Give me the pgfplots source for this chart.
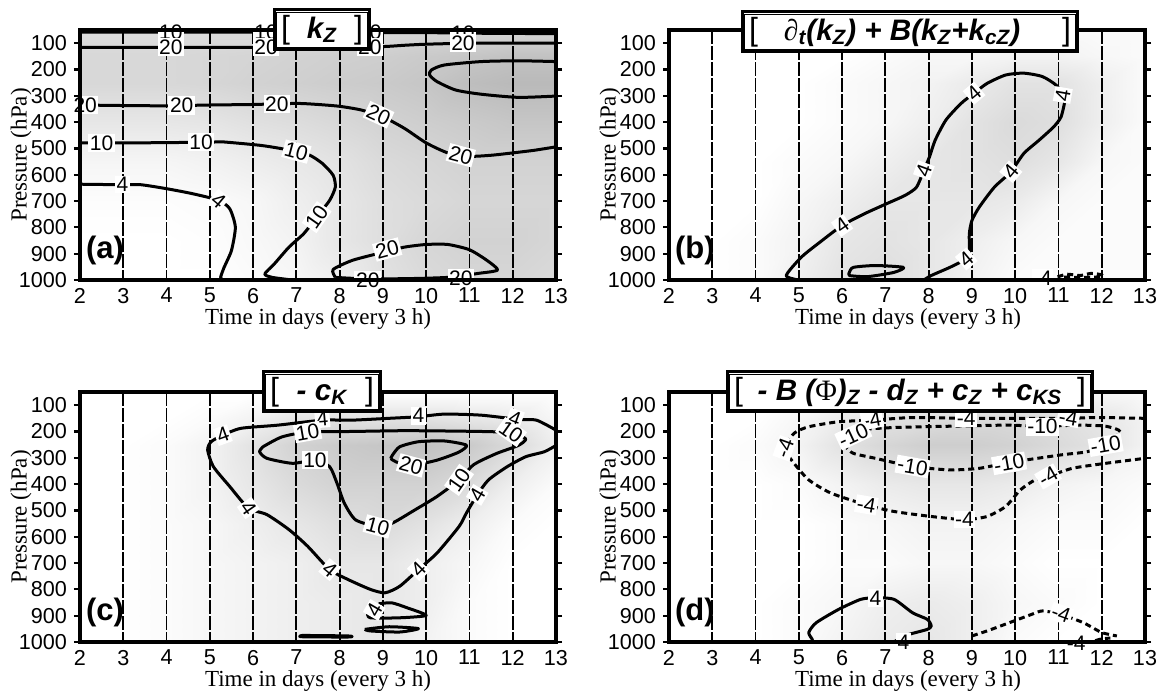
\documentclass[border=0pt]{standalone}
\usepackage{fontspec}
\setmainfont{Liberation Sans}
\newfontfamily\serif{Liberation Serif}
\usepackage{pgfplots}
\pgfplotsset{compat=1.18}
\pgfplotsset{
 panel/.style={
  width=238pt, height=125pt, scale only axis,
  xmin=2, xmax=13, ymin=50, ymax=1000, y dir=reverse,
  xtick={2,...,13}, ytick={100,200,...,1000},
  clip=false, axis on top,
  tick align=outside, ytick pos=both, xtick pos=bottom,
  xtick style={draw=none},
  ytick style={line width=1.1pt, black},
  major tick length=3pt,
  axis line style={line width=1.7pt},
  tick label style={font=\fontsize{10.8}{11}\selectfont},
  xticklabel style={yshift=2.5pt},
  /pgf/number format/assume math mode=true,
  /pgf/number format/1000 sep={},
  colormap={gr}{color(0)=(white) color(1)=(black!32)},
  point meta min=0, point meta max=1,
 },
 cont/.style={black, line width=1.5pt, smooth, tension=0.4, line join=round},
 contn/.style={cont, dash pattern=on 3pt off 2pt},
 gl/.style={black, line width=0.9pt, dash pattern=on 7pt off 1pt},
 sh/.style={surf, shader=interp, mesh/cols=12, point meta=explicit},
}
\tikzset{
 lab/.style={fill=white, inner sep=0.8pt, font=\fontsize{10.5}{11}\selectfont},
 tb/.style={draw, fill=white, line width=1.5pt, minimum height=20pt, inner sep=0pt},
 axl/.style={font=\serif\fontsize{11.5}{12}\selectfont},
 pl/.style={anchor=south west, inner sep=0pt, font=\fontsize{15.5}{16}\selectfont\bfseries},
}
\newcommand\clab[4]{\node[lab, rotate=#3] at (axis cs:#1,#2) {#4};}
\newcommand\gridl{\pgfplotsinvokeforeach{3,...,12}{\addplot[gl] coordinates {(##1,50) (##1,1000)};}}
\newcommand\innerframe[1]{\draw[line width=0.5pt] ([shift={(1.9pt,1.9pt)}]#1.south west) rectangle ([shift={(-1.9pt,-1.9pt)}]#1.north east);}
\newcommand\ttl[2]{\makebox[#1]{{\fontsize{16}{16}\selectfont[}\hfill{\fontsize{14.8}{16}\selectfont\bfseries\itshape #2}\hfill{\fontsize{16}{16}\selectfont]}}}

\begin{document}
\begin{tikzpicture}
\useasboundingbox (0,0) rectangle (581.5pt,-347.5pt);

% ---------------- (a)
\begin{axis}[panel, name=a, at={(40pt,-140pt)}, anchor=south west]
\addplot[sh] coordinates {
(2,50)[.42] (3,50)[.42] (4,50)[.42] (5,50)[.42] (6,50)[.42] (7,50)[.42] (8,50)[.45] (9,50)[.45] (10,50)[.5] (11,50)[.5] (12,50)[.5] (13,50)[.5]
(2,150)[.48] (3,150)[.48] (4,150)[.48] (5,150)[.5] (6,150)[.52] (7,150)[.55] (8,150)[.58] (9,150)[.6] (10,150)[.65] (11,150)[.7] (12,150)[.75] (13,150)[.75]
(2,250)[.48] (3,250)[.48] (4,250)[.48] (5,250)[.5] (6,250)[.55] (7,250)[.58] (8,250)[.62] (9,250)[.65] (10,250)[.7] (11,250)[.8] (12,250)[.85] (13,250)[.85]
(2,400)[.3] (3,400)[.3] (4,400)[.3] (5,400)[.32] (6,400)[.38] (7,400)[.42] (8,400)[.48] (9,400)[.55] (10,400)[.6] (11,400)[.65] (12,400)[.7] (13,400)[.7]
(2,550)[.12] (3,550)[.12] (4,550)[.12] (5,550)[.16] (6,550)[.22] (7,550)[.28] (8,550)[.35] (9,550)[.45] (10,550)[.5] (11,550)[.55] (12,550)[.55] (13,550)[.55]
(2,700)[.03] (3,700)[.03] (4,700)[.03] (5,700)[.05] (6,700)[.1] (7,700)[.2] (8,700)[.3] (9,700)[.4] (10,700)[.45] (11,700)[.5] (12,700)[.5] (13,700)[.5]
(2,850)[0] (3,850)[0] (4,850)[0] (5,850)[.02] (6,850)[.08] (7,850)[.15] (8,850)[.3] (9,850)[.4] (10,850)[.5] (11,850)[.55] (12,850)[.55] (13,850)[.5]
(2,1000)[0] (3,1000)[0] (4,1000)[0] (5,1000)[0] (6,1000)[.05] (7,1000)[.1] (8,1000)[.2] (9,1000)[.35] (10,1000)[.45] (11,1000)[.5] (12,1000)[.5] (13,1000)[.45]
};
\gridl
\addplot[cont] coordinates {(2,58) (4,58) (6,58) (8,58) (9,60) (10,60) (11,62) (12,63) (13,64)};
\addplot[cont] coordinates {(2,116) (3,116) (4,116) (5,116) (6,116) (7,115) (8,115) (9,113) (9.5,108) (10,104) (11,100) (12,100) (13,100)};
\addplot[cont] coordinates {(13,170) (12.13,167) (11.27,170) (10.42,183) (10.12,202) (10.08,221) (10.25,246) (10.68,278) (11.27,294) (12.13,306) (13,301)};
\addplot[cont] coordinates {(2,335) (3,337) (4,338) (5,335) (6,333) (7,329) (7.5,333) (8,340) (8.5,354) (9,380) (9.5,424) (10,479) (10.5,517) (11,530) (11.5,526) (12,517) (12.5,507) (13,494)};
\addplot[cont] coordinates {(2,479) (3,479) (4,478) (5,476) (5.29,475) (6.15,488) (6.66,501) (7.26,522) (7.6,557) (7.85,602) (7.9,647) (7.77,697) (7.47,761) (7.17,824) (6.83,875) (6.49,939) (6.27,977) (6.44,990) (6.91,1000)};
\addplot[cont] coordinates {(2,636) (3,638) (3.41,638) (4.0,653) (4.6,672) (5.2,697) (5.46,729) (5.59,799) (5.5,888) (5.33,952) (5.25,990) (5.3,1000)};
\addplot[cont] coordinates {(7.9,990) (7.85,960) (8.3,925) (9,895) (9.5,875) (10,865) (10.5,865) (11,885) (11.4,925) (11.65,962) (11.2,975) (10.5,990) (9.5,995) (8.5,995) (7.9,990)};
\clab{4.1}{58}{0}{10} \clab{6.3}{58}{0}{10} \clab{8.7}{60}{0}{10} \clab{10.85}{61}{0}{10}
\clab{4.1}{116}{0}{20} \clab{6.3}{116}{0}{20} \clab{8.7}{114}{0}{20} \clab{10.85}{101}{0}{20}
\clab{2.12}{335}{0}{20} \clab{4.35}{337}{0}{20} \clab{6.55}{331}{0}{20} \clab{8.9}{372}{-25}{20} \clab{10.8}{526}{-15}{20}
\clab{2.5}{479}{0}{10} \clab{4.8}{477}{0}{10} \clab{7.0}{512}{-15}{10} \clab{7.47}{761}{55}{10}
\clab{2.98}{637}{0}{4} \clab{5.2}{697}{-40}{4}
\clab{9.1}{884}{15}{20} \clab{8.65}{1000}{0}{20} \clab{10.8}{994}{0}{20}
\node[pl] at (axis description cs:0.012,0.06) {(a)};
\end{axis}

% ---------------- (b)
\begin{axis}[panel, name=b, at={(334.5pt,-140pt)}, anchor=south west]
\addplot[sh] coordinates {
(2,50)[0] (3,50)[0] (4,50)[0] (5,50)[0] (6,50)[0] (7,50)[.05] (8,50)[.05] (9,50)[.05] (10,50)[.05] (11,50)[.05] (12,50)[.05] (13,50)[.05]
(2,150)[0] (3,150)[0] (4,150)[0] (5,150)[0] (6,150)[0] (7,150)[.05] (8,150)[.1] (9,150)[.1] (10,150)[.15] (11,150)[.15] (12,150)[.1] (13,150)[.05]
(2,250)[0] (3,250)[0] (4,250)[0] (5,250)[0] (6,250)[.05] (7,250)[.1] (8,250)[.15] (9,250)[.25] (10,250)[.35] (11,250)[.35] (12,250)[.2] (13,250)[.05]
(2,400)[0] (3,400)[0] (4,400)[0] (5,400)[0] (6,400)[.05] (7,400)[.1] (8,400)[.2] (9,400)[.35] (10,400)[.45] (11,400)[.4] (12,400)[.2] (13,400)[.05]
(2,550)[0] (3,550)[0] (4,550)[0] (5,550)[.05] (6,550)[.1] (7,550)[.2] (8,550)[.3] (9,550)[.35] (10,550)[.4] (11,550)[.3] (12,550)[.1] (13,550)[.05]
(2,700)[0] (3,700)[0] (4,700)[0] (5,700)[.1] (6,700)[.2] (7,700)[.3] (8,700)[.3] (9,700)[.3] (10,700)[.25] (11,700)[.1] (12,700)[.05] (13,700)[.05]
(2,850)[0] (3,850)[0] (4,850)[.05] (5,850)[.15] (6,850)[.3] (7,850)[.35] (8,850)[.3] (9,850)[.2] (10,850)[.1] (11,850)[.05] (12,850)[.05] (13,850)[.05]
(2,1000)[0] (3,1000)[0] (4,1000)[.05] (5,1000)[.2] (6,1000)[.35] (7,1000)[.4] (8,1000)[.3] (9,1000)[.15] (10,1000)[.05] (11,1000)[.05] (12,1000)[.05] (13,1000)[.05]
};
\gridl
\addplot[cont] coordinates {(5.0,1000) (4.71,983) (5.06,913) (5.49,856) (6.0,793) (6.52,748) (7.03,710) (7.46,678) (7.72,647) (7.89,583) (8.02,532) (8.15,469) (8.4,392) (8.75,329) (9.05,290) (9.35,253) (9.78,221) (10.2,214) (10.63,227) (10.95,260) (11.1,297) (11.15,316) (11.06,380) (10.89,418) (10.55,469) (10.2,519) (9.9,589) (9.52,647) (9.17,723) (9.0,774) (8.94,825) (8.94,901) (8.87,920) (8.49,952) (8.06,983) (7.89,1000)};
\addplot[cont] coordinates {(6.17,971) (6.26,952) (6.77,945) (7.42,952) (7.2,971) (6.6,987) (6.17,983) (6.17,971)};
\addplot[contn] coordinates {(10.98,988) (11.2,978) (11.5,983) (11.75,975) (12.0,980) (12.0,988) (11.5,990) (10.98,988)};
\clab{6.0}{793}{35}{4} \clab{7.89}{583}{70}{4} \clab{9.05}{290}{40}{4} \clab{11.1}{297}{80}{4} \clab{9.9}{589}{50}{4} \clab{8.87}{920}{40}{4}
\clab{10.63}{992}{0}{-4}
\node[pl] at (axis description cs:0.012,0.06) {(b)};
\end{axis}

% ---------------- (c)
\begin{axis}[panel, name=c, at={(40pt,-321pt)}, anchor=south west]
\addplot[sh] coordinates {
(2,50)[0] (3,50)[0] (4,50)[0] (5,50)[0] (6,50)[0] (7,50)[0] (8,50)[0] (9,50)[0] (10,50)[0] (11,50)[0] (12,50)[0] (13,50)[0]
(2,150)[0] (3,150)[0] (4,150)[0] (5,150)[.05] (6,150)[.15] (7,150)[.3] (8,150)[.35] (9,150)[.35] (10,150)[.35] (11,150)[.3] (12,150)[.25] (13,150)[.1]
(2,250)[0] (3,250)[0] (4,250)[.05] (5,250)[.15] (6,250)[.35] (7,250)[.55] (8,250)[.65] (9,250)[.7] (10,250)[.75] (11,250)[.65] (12,250)[.45] (13,250)[.2]
(2,400)[0] (3,400)[0] (4,400)[.05] (5,400)[.15] (6,400)[.3] (7,400)[.45] (8,400)[.55] (9,400)[.55] (10,400)[.55] (11,400)[.45] (12,400)[.2] (13,400)[.05]
(2,550)[0] (3,550)[0] (4,550)[.05] (5,550)[.1] (6,550)[.2] (7,550)[.3] (8,550)[.4] (9,550)[.45] (10,550)[.35] (11,550)[.2] (12,550)[.05] (13,550)[0]
(2,700)[0] (3,700)[0] (4,700)[.05] (5,700)[.1] (6,700)[.15] (7,700)[.2] (8,700)[.3] (9,700)[.3] (10,700)[.2] (11,700)[.1] (12,700)[0] (13,700)[0]
(2,850)[0] (3,850)[0] (4,850)[.05] (5,850)[.1] (6,850)[.15] (7,850)[.2] (8,850)[.25] (9,850)[.3] (10,850)[.2] (11,850)[.05] (12,850)[0] (13,850)[0]
(2,1000)[0] (3,1000)[0] (4,1000)[.05] (5,1000)[.1] (6,1000)[.15] (7,1000)[.2] (8,1000)[.25] (9,1000)[.3] (10,1000)[.15] (11,1000)[.05] (12,1000)[0] (13,1000)[0]
};
\gridl
\addplot[cont] coordinates {(13,195) (12.55,157) (12.13,154) (11.27,138) (10.42,134) (9.82,144) (9.14,150) (8.28,157) (7.6,157) (6.57,176) (5.72,188) (5.3,214) (5.03,239) (4.95,270) (5.08,333) (5.46,409) (5.89,491) (6.32,516) (6.83,573) (7.26,636) (7.77,725) (8.2,763) (8.71,800) (9.05,813) (9.39,788) (9.82,725) (10.25,662) (10.76,561) (10.93,510) (11.18,441) (11.44,384) (11.87,334) (12.3,296) (12.73,277) (13,253)};
\addplot[cont] coordinates {(6.23,258) (6.66,221) (7.26,202) (8.28,200) (9.56,197) (11.27,200) (11.96,205) (12.3,228) (12.13,253) (11.62,284) (11.1,326) (10.76,384) (10.25,447) (9.74,498) (9.22,548) (8.88,561) (8.37,536) (8.11,473) (7.94,397) (7.77,334) (7.43,309) (6.91,321) (6.32,302) (6.15,277) (6.23,258)};
\addplot[cont] coordinates {(9.18,303) (9.22,290) (9.39,258) (9.82,239) (10.42,236) (10.93,252) (10.76,278) (10.25,309) (9.65,329) (9.31,316) (9.18,303)};
\addplot[cont] coordinates {(8.9,855) (9.2,851) (9.56,870) (10.0,899) (9.39,908) (8.71,908) (8.65,890)};
\addplot[cont] coordinates {(8.58,952) (9.14,942) (9.82,949) (9.39,962) (8.71,958) (8.58,952)};
\addplot[cont] coordinates {(7.13,975) (8.2,977) (8.2,981) (7.13,980) (7.13,975)};
\clab{5.3}{214}{20}{4} \clab{7.6}{152}{5}{4} \clab{9.82}{140}{0}{4} \clab{12.05}{150}{-20}{4}
\clab{5.89}{491}{-55}{4} \clab{7.77}{725}{-40}{4} \clab{9.82}{725}{45}{4} \clab{11.18}{441}{60}{4} \clab{8.8}{878}{60}{4}
\clab{7.26}{202}{10}{10} \clab{7.43}{309}{0}{10} \clab{8.88}{561}{-15}{10} \clab{10.76}{384}{55}{10} \clab{11.96}{202}{-35}{10}
\clab{9.65}{329}{-15}{20}
\node[pl] at (axis description cs:0.012,0.06) {(c)};
\end{axis}

% ---------------- (d)
\begin{axis}[panel, name=d, at={(334.5pt,-321pt)}, anchor=south west]
\addplot[sh] coordinates {
(2,50)[0] (3,50)[0] (4,50)[0] (5,50)[0] (6,50)[.05] (7,50)[.1] (8,50)[.1] (9,50)[.1] (10,50)[.1] (11,50)[.1] (12,50)[.1] (13,50)[.05]
(2,150)[0] (3,150)[0] (4,150)[0] (5,150)[.1] (6,150)[.25] (7,150)[.35] (8,150)[.4] (9,150)[.45] (10,150)[.45] (11,150)[.4] (12,150)[.3] (13,150)[.15]
(2,250)[0] (3,250)[0] (4,250)[.05] (5,250)[.15] (6,250)[.35] (7,250)[.5] (8,250)[.6] (9,250)[.6] (10,250)[.55] (11,250)[.45] (12,250)[.35] (13,250)[.15]
(2,400)[0] (3,400)[0] (4,400)[0] (5,400)[.05] (6,400)[.15] (7,400)[.25] (8,400)[.3] (9,400)[.3] (10,400)[.25] (11,400)[.15] (12,400)[.1] (13,400)[.05]
(2,550)[0] (3,550)[0] (4,550)[0] (5,550)[0] (6,550)[.05] (7,550)[.1] (8,550)[.15] (9,550)[.15] (10,550)[.1] (11,550)[.05] (12,550)[.05] (13,550)[0]
(2,700)[0] (3,700)[0] (4,700)[0] (5,700)[0] (6,700)[.05] (7,700)[.05] (8,700)[.1] (9,700)[.1] (10,700)[.05] (11,700)[0] (12,700)[0] (13,700)[0]
(2,850)[0] (3,850)[0] (4,850)[0] (5,850)[.05] (6,850)[.1] (7,850)[.2] (8,850)[.25] (9,850)[.2] (10,850)[.1] (11,850)[.05] (12,850)[0] (13,850)[0]
(2,1000)[0] (3,1000)[0] (4,1000)[0] (5,1000)[.05] (6,1000)[.15] (7,1000)[.25] (8,1000)[.3] (9,1000)[.2] (10,1000)[.05] (11,1000)[0] (12,1000)[0] (13,1000)[0]
};
\gridl
\addplot[contn] coordinates {(13,150) (11.92,147) (11.23,150) (10.2,150) (8.87,150) (7.63,147) (6.69,157) (5.92,163) (5.23,182) (4.89,207) (4.67,264) (4.89,321) (5.23,384) (5.74,434) (6.56,479) (7.2,504) (8.06,523) (8.83,535) (9.35,523) (9.78,485) (10.12,422) (10.46,384) (10.76,371) (11.32,340) (12.09,321) (13,302)};
\addplot[contn] coordinates {(6.17,232) (6.43,195) (7.2,185) (8.49,180) (9.78,176) (10.63,180) (11.49,176) (12.09,180) (12.43,201) (12.09,250) (11.66,277) (11.06,289) (9.86,318) (9.17,340) (8.49,346) (7.63,333) (6.77,302) (6.26,283) (6.09,258) (6.17,232)};
\addplot[cont] coordinates {(5.31,1000) (5.31,990) (5.23,964) (5.4,927) (5.92,876) (6.43,838) (6.77,832) (7.2,838) (7.63,889) (7.97,914) (8.06,939) (7.97,952) (7.55,971) (7.3,990) (7.2,1000)};
\addplot[contn] coordinates {(9.0,977) (9.35,958) (9.86,927) (10.38,895) (10.63,882) (11.06,895) (11.58,927) (12.0,964) (12.35,977)};
\addplot[contn] coordinates {(11.85,995) (12.0,988) (12.2,985)};
\clab{11.23}{147}{-10}{-4} \clab{8.87}{148}{0}{-4} \clab{6.69}{155}{10}{-4} \clab{4.67}{264}{70}{-4} \clab{6.56}{479}{-10}{-4} \clab{8.83}{535}{0}{-4} \clab{10.76}{371}{30}{-4}
\clab{6.26}{214}{25}{-10} \clab{10.63}{182}{0}{-10} \clab{12.09}{252}{10}{-10} \clab{9.86}{321}{10}{-10} \clab{7.63}{333}{-10}{-10}
\clab{6.77}{832}{0}{4} \clab{7.42}{1000}{0}{4}
\clab{11.06}{893}{-20}{-4} \clab{11.41}{1005}{0}{-4}
\node[pl] at (axis description cs:0.012,0.06) {(d)};
\end{axis}

% axis labels
\node[axl] at (159pt,-159.5pt) {Time in days (every 3 h)};
\node[axl] at (454pt,-159.5pt) {Time in days (every 3 h)};
\node[axl] at (159pt,-340.5pt) {Time in days (every 3 h)};
\node[axl] at (454pt,-340.5pt) {Time in days (every 3 h)};
\node[axl, rotate=90] at (10.5pt,-77.5pt) {Pressure (hPa)};
\node[axl, rotate=90] at (305pt,-77.5pt) {Pressure (hPa)};
\node[axl, rotate=90] at (10.5pt,-258.5pt) {Pressure (hPa)};
\node[axl, rotate=90] at (305pt,-258.5pt) {Pressure (hPa)};

% title boxes
\node[tb, minimum width=47.5pt] (ta) at (161pt,-15pt) {\ttl{41pt}{k\textsubscript{Z}}};
\innerframe{ta}
\node[tb, minimum width=167.5pt] (tbb) at (455pt,-16pt) {\ttl{161pt}{{\serif\mdseries\upshape ∂}\textsubscript{t}(k\textsubscript{Z}) + B(k\textsubscript{Z}+k\textsubscript{cZ})\hspace{8pt}}};
\innerframe{tbb}
\node[tb, minimum width=58.5pt] (tc) at (161pt,-196pt) {\ttl{52pt}{- c\textsubscript{K}}};
\innerframe{tc}
\node[tb, minimum width=182.5pt] (td) at (455pt,-196pt) {\ttl{176pt}{- B ({\serif\mdseries\upshape Φ})\textsubscript{Z} - d\textsubscript{Z} + c\textsubscript{Z} + c\textsubscript{KS}}};
\innerframe{td}
\end{tikzpicture}
\end{document}
